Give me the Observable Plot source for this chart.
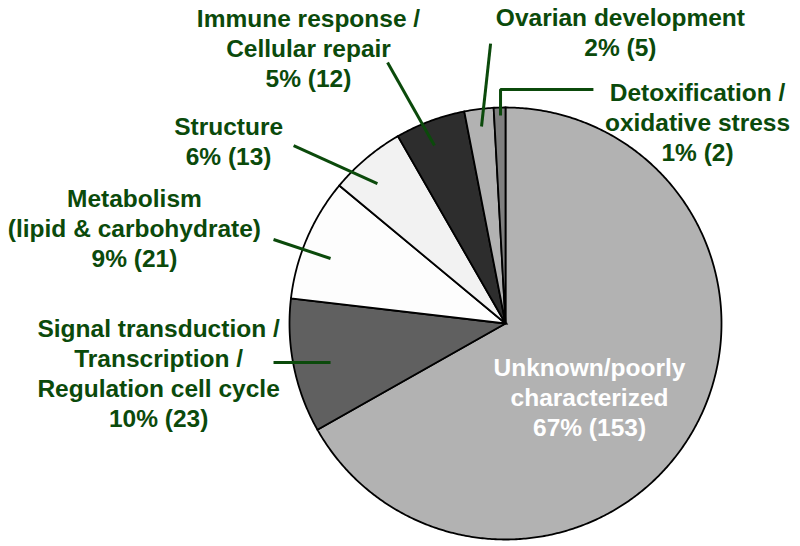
<!DOCTYPE html>
<html>
<head>
<meta charset="utf-8">
<script src="https://cdn.jsdelivr.net/npm/d3@7"></script>
<script src="https://cdn.jsdelivr.net/npm/@observablehq/plot@0.6"></script>
<style>
  html, body { margin: 0; padding: 0; background: #fff; }
  #chart svg { display: block; }
</style>
</head>
<body>
<div id="chart"></div>
<script>
// ---- data (clockwise from 12 o'clock) ----
const categories = [
  "Unknown/poorly\ncharacterized",
  "Signal transduction /\nTranscription /\nRegulation cell cycle",
  "Metabolism\n(lipid & carbohydrate)",
  "Structure",
  "Immune response /\nCellular repair",
  "Ovarian development",
  "Detoxification /\noxidative stress"
];
const counts = [153, 23, 21, 13, 12, 5, 2];
const percents = [67, 10, 9, 6, 5, 2, 1];

// ---- styling ----
const sliceColors = ["#b2b2b2", "#606060", "#fdfdfd", "#f2f2f2", "#2d2d2d", "#b2b2b2", "#7f7f7f"];
const labelColors = ["#ffffff", "#0b4a0b", "#0b4a0b", "#0b4a0b", "#0b4a0b", "#0b4a0b", "#0b4a0b"];
const green = "#0b4a0b";

// ---- annotation layout (in pie-radius units, centre = 0,0, y up) ----
const labelPos = [
  [0.389, -0.146],
  [-1.606, 0.035],
  [-1.718, 0.637],
  [-1.282, 0.970],
  [-0.912, 1.472],
  [0.532, 1.475],
  [0.889, 1.128]
];
const leaderPts = [
  null,
  [[-1.074, -0.181], [-0.810, -0.181]],
  [[-1.074, 0.389], [-0.810, 0.301]],
  [[-0.981, 0.824], [-0.593, 0.648]],
  [[-0.546, 1.208], [-0.329, 0.824]],
  [[-0.069, 1.296], [-0.111, 0.912]],
  [[0.407, 1.083], [-0.023, 1.083], [-0.023, 0.963]]
];

// ---- pie geometry from the values ----
const total = d3.sum(counts);
const slices = [];
let cum = 0;
counts.forEach((c, i) => {
  const a0 = cum / total * 2 * Math.PI;
  cum += c;
  const a1 = cum / total * 2 * Math.PI;
  const n = Math.max(2, Math.ceil((a1 - a0) / (Math.PI / 360)));
  slices.push({key: i, x: 0, y: 0});
  for (let k = 0; k <= n; k++) {
    const a = a0 + (a1 - a0) * k / n;
    slices.push({key: i, x: Math.sin(a), y: Math.cos(a)});
  }
});

const labels = categories.map((name, i) => ({
  key: i,
  text: `${name}\n${percents[i]}% (${counts[i]})`,
  x: labelPos[i][0],
  y: labelPos[i][1],
  color: labelColors[i]
}));

const leaders = [];
leaderPts.forEach((pts, i) => {
  if (!pts) return;
  pts.forEach(([x, y]) => leaders.push({key: i, x, y}));
});

const cx = 505, cy = 323, R = 216;

const chart = Plot.plot({
  width: 800,
  height: 546,
  margin: 0,
  x: {domain: [-1, 1], range: [cx - R, cx + R], axis: null},
  y: {domain: [-1, 1], range: [cy + R, cy - R], axis: null},
  color: {type: "ordinal", domain: d3.range(counts.length), range: sliceColors},
  style: {background: "#ffffff"},
  marks: [
    Plot.line(slices, {
      x: "x", y: "y", z: "key", fill: "key",
      curve: "linear-closed",
      stroke: "#000", strokeWidth: 1.8, strokeLinejoin: "miter", strokeMiterlimit: 4
    }),
    Plot.line(leaders, {
      x: "x", y: "y", z: "key",
      stroke: green, strokeWidth: 3, strokeLinecap: "butt", strokeLinejoin: "miter"
    }),
    Plot.text(labels, {
      x: "x", y: "y", text: "text",
      fill: d => d.color,
      fontFamily: "Liberation Sans, Arial, sans-serif",
      fontWeight: "bold",
      fontSize: 24.5,
      lineHeight: 1.22,
      lineAnchor: "top",
      textAnchor: "middle"
    })
  ]
});
document.getElementById("chart").appendChild(chart);
</script>
</body>
</html>
